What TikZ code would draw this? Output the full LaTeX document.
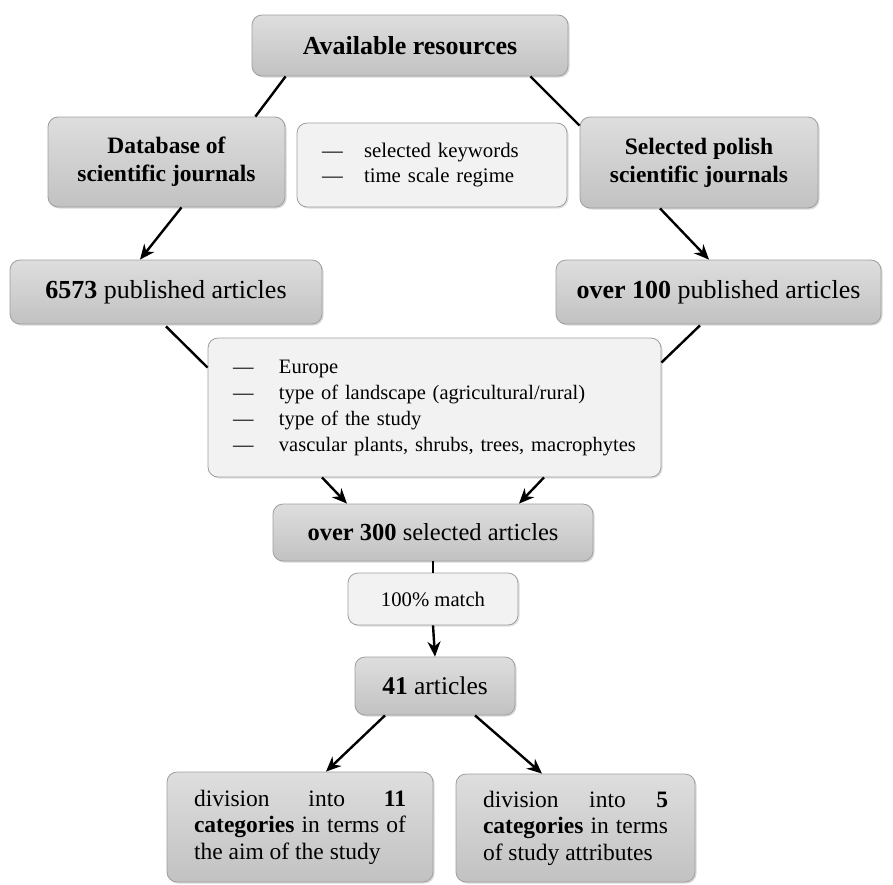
\documentclass[tikz,border=0pt]{standalone}
\usepackage{fontspec}
\setmainfont{Liberation Serif}
\usetikzlibrary{shadows,arrows.meta,calc}
\tikzset{
  box/.style={draw=black!38, line width=0.8pt, rounded corners=10pt,
    top color=black!13, bottom color=black!24,
    drop shadow={shadow xshift=1.5pt, shadow yshift=-1.5pt, opacity=0.3},
    inner sep=0pt, align=center, text=black},
  lightbox/.style={draw=black!38, line width=0.8pt, rounded corners=10pt,
    fill=black!5,
    drop shadow={shadow xshift=1.5pt, shadow yshift=-1.5pt, opacity=0.25},
    inner ysep=0pt, align=left, text=black},
  conn/.style={line width=2.4pt, black},
  arr/.style={conn, -{Stealth[length=15pt,width=13pt]}},
}
\begin{document}
\begin{tikzpicture}[x=1pt,y=-1pt]
\useasboundingbox (0,0) rectangle (893,884);

\node[box, minimum width=316pt, minimum height=61pt,
  font=\fontsize{26}{30}\selectfont\bfseries] (avail) at (410,45.5) {Available resources};
\node[box, minimum width=237pt, minimum height=90pt,
  font=\fontsize{23.5}{28}\selectfont\bfseries] (db) at (166.5,162) {Database of\\scientific journals};
\node[lightbox, minimum height=84pt, inner xsep=25pt, text width=220pt,
  font=\fontsize{20.8}{25}\selectfont] (kw) at (432,165)
  {\makebox[42pt][l]{—}selected keywords\\\makebox[42pt][l]{—}time scale regime};
\node[box, minimum width=238pt, minimum height=91pt,
  font=\fontsize{23.5}{28}\selectfont\bfseries] (sel) at (699,162.5) {Selected polish\\scientific journals};

\node[box, minimum width=312pt, minimum height=64pt,
  font=\fontsize{26}{30}\selectfont] (n6573) at (166,292) {\textbf{6573} published articles};
\node[box, minimum width=325pt, minimum height=64pt,
  font=\fontsize{26}{30}\selectfont] (n100) at (718.5,292) {\textbf{over 100} published articles};

\node[lightbox, minimum height=139pt, inner xsep=25pt, text width=403pt,
  font=\fontsize{20.5}{26}\selectfont] (crit) at (434.5,407.5)
  {\makebox[46pt][l]{—}Europe\\
   \makebox[46pt][l]{—}type of landscape (agricultural/rural)\\
   \makebox[46pt][l]{—}type of the study\\
   \makebox[46pt][l]{—}vascular plants, shrubs, trees, macrophytes};

\node[box, minimum width=320pt, minimum height=57pt,
  font=\fontsize{24.5}{28}\selectfont] (n300) at (433,532.5) {\textbf{over 300} selected articles};
\node[lightbox, minimum width=170pt, minimum height=52pt, inner xsep=0pt, align=center,
  font=\fontsize{20.7}{25}\selectfont] (match) at (433,599) {100\% match};
\node[box, minimum width=160pt, minimum height=58pt,
  font=\fontsize{25.5}{29}\selectfont] (n41) at (435,686) {\textbf{41} articles};

\node[box, minimum height=110pt, inner xsep=27pt, text width=212pt, align=justify,
  font=\fontsize{23.5}{26.5}\selectfont] (bl) at (300,827)
  {division into \textbf{11}\linebreak \textbf{categories} in terms of\linebreak the aim of the study};
\node[box, minimum height=108pt, inner xsep=27pt, text width=185pt, align=justify,
  font=\fontsize{23.5}{26.5}\selectfont] (br) at (575.5,828)
  {division into \textbf{5}\linebreak \textbf{categories} in terms\linebreak of study attributes};

% connectors
\draw[conn] ([xshift=34pt]avail.south west) -- ([xshift=-30pt]db.north east);
\draw[conn] ([xshift=-38pt]avail.south east) -- ([yshift=-9pt]sel.north west);
\draw[arr] ([xshift=15pt]db.south) -- ([xshift=-26pt]n6573.north);
\draw[arr] ([xshift=-39pt]sel.south) -- ([xshift=-9.5pt]n100.north);
\draw[conn] ([yshift=-2pt]n6573.south) -- ([yshift=-30pt]crit.north west);
\draw[conn] ([xshift=-18.5pt,yshift=-1pt]n100.south) -- ([yshift=-25pt]crit.north east);
\draw[arr] ([xshift=-112.5pt]crit.south) -- ([xshift=-86pt]n300.north);
\draw[arr] ([xshift=109.5pt]crit.south) -- ([xshift=86pt]n300.north);
\draw[conn] (n300.south) -- (match.north);
\draw[arr] (match.south) -- (n41.north);
\draw[arr] ([xshift=-50pt]n41.south) -- ([xshift=26pt]bl.north);
\draw[arr] ([xshift=40pt]n41.south) -- ([xshift=-33.5pt]br.north);
\end{tikzpicture}
\end{document}
